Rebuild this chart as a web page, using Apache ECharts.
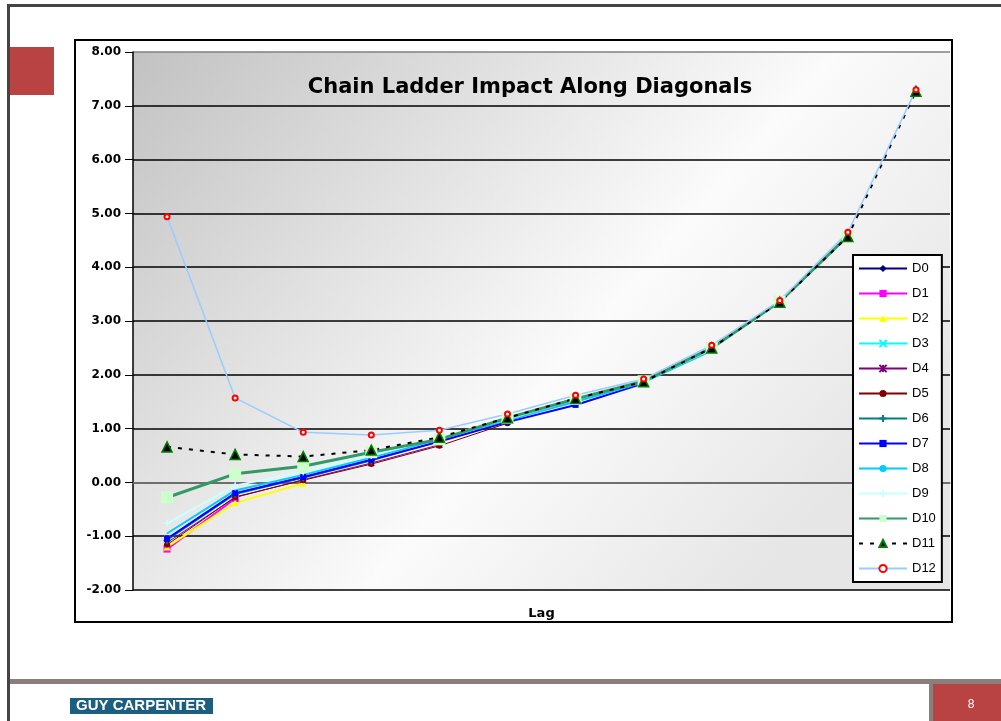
<!DOCTYPE html>
<html><head><meta charset="utf-8">
<script src="https://cdn.jsdelivr.net/npm/echarts@6/dist/echarts.min.js"></script>
<style>html,body{margin:0;padding:0;background:#fff}#c{width:1001px;height:721px}</style>
</head><body><div id="c"></div>
<script>
const lags = ['1','2','3','4','5','6','7','8','9','10','11','12'];
const yTicks = [-2,-1,0,1,2,3,4,5,6,7,8];
const seriesNames = ['D0','D1','D2','D3','D4','D5','D6','D7','D8','D9','D10','D11','D12'];
const D0 = [-1.10];
const D1 = [-1.24, -0.30];
const D2 = [-1.20, -0.38, -0.02];
const D3 = [-1.05, -0.22, 0.10, 0.42];
const D4 = [-1.12, -0.28, 0.05, 0.36, 0.70];
const D5 = [-1.16, -0.27, 0.04, 0.34, 0.68, 1.10];
const D6 = [-1.08, -0.22, 0.08, 0.40, 0.76, 1.14, 1.52];
const D7 = [-1.05, -0.20, 0.10, 0.42, 0.76, 1.12, 1.44, 1.84];
const D8 = [-0.95, -0.15, 0.14, 0.46, 0.80, 1.16, 1.50, 1.86, 2.45];
const D9 = [-0.76, -0.06, 0.20, 0.50, 0.83, 1.18, 1.54, 1.88, 2.48, 3.33];
const D10 = [-0.28, 0.16, 0.30, 0.56, 0.80, 1.20, 1.55, 1.88, 2.50, 3.36, 4.58];
const D11 = [0.66, 0.52, 0.48, 0.60, 0.84, 1.20, 1.56, 1.87, 2.50, 3.35, 4.57, 7.27];
const D12 = [4.94, 1.57, 0.93, 0.88, 0.97, 1.27, 1.62, 1.92, 2.55, 3.38, 4.65, 7.30];
const allData = [D0,D1,D2,D3,D4,D5,D6,D7,D8,D9,D10,D11,D12];

const X = 'path://M0,0L10,10M10,0L0,10';
const AST = 'path://M0,0L10,10M10,0L0,10M5,0L5,10';
const PLUS = 'path://M5,0L5,10M0,5L10,5';
const DASH = 'path://M0,4L10,4L10,6L0,6Z';
const styles = [
  {c:'#000080', w:1, sym:'diamond', ss:6},
  {c:'#ff00ff', w:2, sym:'rect', ss:7},
  {c:'#ffff00', w:2, sym:'triangle', ss:7},
  {c:'#00ffff', w:2, sym:X, ss:6, stroke:true},
  {c:'#800080', w:1, sym:AST, ss:6, stroke:true},
  {c:'#800000', w:1, sym:'circle', ss:6},
  {c:'#008080', w:1, sym:PLUS, ss:7, stroke:true},
  {c:'#0000ff', w:2, sym:DASH, ss:6},
  {c:'#00ccff', w:2, sym:'circle', ss:1},
  {c:'#ccffff', w:2, sym:PLUS, ss:7, stroke:true},
  {c:'#339966', w:3, sym:'rect', ss:12, fill:'#ccffcc'},
  {c:'#000000', w:2, sym:'triangle', ss:10, fill:'#000000', border:'#008000', dash:true},
  {c:'#99ccff', w:1.5, sym:'emptyCircle', ss:5, fill:'#ff0000'}
];

const series = seriesNames.map((n,i)=>{
  const s = styles[i];
  const item = {color: s.fill || s.c};
  if (s.stroke) { item.borderColor = s.c; item.borderWidth = 1.5; }
  if (s.border) { item.borderColor = s.border; item.borderWidth = 1.5; }
  return {
    name:n, type:'line', data: allData[i],
    symbol: s.sym, symbolSize: s.ss,
    lineStyle:{color:s.c, width:s.w, type: s.dash ? [4,7] : 'solid'},
    itemStyle: item
  };
});

const chart = echarts.init(document.getElementById('c'), null, {renderer:'canvas'});
const splitColors = yTicks.map((v,i)=> (i===yTicks.length-1) ? '#808080' : '#000000');
chart.setOption({
  animation:false,
  backgroundColor:'#ffffff',
  title:{text:'Chain Ladder Impact Along Diagonals', left:525, top:72, textAlign:'center',
    textStyle:{fontFamily:'DejaVu Sans', fontWeight:'bold', fontSize:21, color:'#000'}},
  grid:{left:133, right:51, top:52, bottom:131, show:true, borderWidth:0,
    backgroundColor: new echarts.graphic.LinearGradient(0,0,0.75,1,[
      {offset:0,color:'#c2c2c2'},{offset:0.65,color:'#fbfbfb'},{offset:1,color:'#e6e6e6'}])},
  legend:{show:true, type:'plain', orient:'vertical', left:853, top:255,
    backgroundColor:'#ffffff', borderColor:'#000', borderWidth:2, padding:[7,6,7,5],
    itemWidth:48, itemHeight:9, itemGap:12,
    textStyle:{fontFamily:'Liberation Sans', fontSize:13, color:'#000'}},
  xAxis:{type:'category', data:lags, boundaryGap:true,
    name:'Lag', nameLocation:'middle', nameGap:17,
    nameTextStyle:{fontFamily:'DejaVu Sans', fontWeight:'bold', fontSize:13, color:'#000'},
    axisLine:{lineStyle:{color:'#808080', width:1.5}}, axisTick:{show:false}, axisLabel:{show:false}},
  yAxis:{type:'value', min:-2, max:8, interval:1,
    axisLine:{show:true, lineStyle:{color:'#000', width:1.5}},
    axisTick:{show:true, inside:false, length:8, lineStyle:{color:'#000'}},
    axisLabel:{margin:12, formatter:v=>v.toFixed(2), fontFamily:'DejaVu Sans', fontWeight:'bold', fontSize:12, color:'#000'},
    splitLine:{show:true, lineStyle:{color:splitColors, width:1.5}}},
  graphic:[
    {type:'rect', shape:{x:7,y:4,width:994,height:3}, style:{fill:'#444444'}, z:-10},
    {type:'rect', shape:{x:7,y:4,width:3,height:717}, style:{fill:'#444444'}, z:-10},
    {type:'rect', shape:{x:10,y:47,width:44,height:48}, style:{fill:'#b94343'}, z:-10},
    {type:'rect', shape:{x:75,y:40,width:877,height:582}, style:{fill:'none', stroke:'#000', lineWidth:2}, z:100},
    {type:'rect', shape:{x:10,y:679,width:991,height:5}, style:{fill:'#8b7f7d'}, z:-10},
    {type:'rect', shape:{x:929,y:684,width:4,height:37}, style:{fill:'#8b7f7d'}, z:-10},
    {type:'rect', shape:{x:933,y:684,width:68,height:37}, style:{fill:'#b94343'}, z:-10},
    {type:'text', x:971, y:705, style:{text:'8', fill:'#fff', font:'12px Liberation Sans', textAlign:'center', textVerticalAlign:'middle'}, z:-9},
    {type:'rect', shape:{x:70,y:698,width:143,height:16}, style:{fill:'#1b5e7f'}, z:-10},
    {type:'text', x:141, y:706, style:{text:'GUY CARPENTER', fill:'#fff', font:'bold 15px Liberation Sans', textAlign:'center', textVerticalAlign:'middle'}, z:-9}
  ],
  series: series
});
</script></body></html>
